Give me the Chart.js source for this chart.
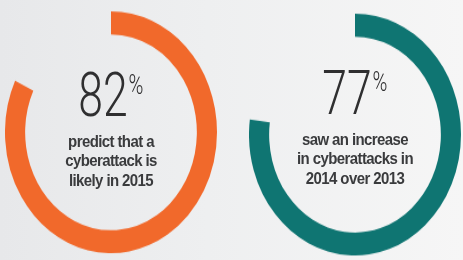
<!DOCTYPE html>
<html>
<head>
<meta charset="utf-8">
<script src="https://cdn.jsdelivr.net/npm/chart.js@4.4.1/dist/chart.umd.min.js"></script>
<style>
  html, body { margin: 0; padding: 0; }
  body {
    width: 463px; height: 260px; overflow: hidden;
    background: linear-gradient(to right, #e7e8ea 0%, #eeeff0 45%, #f6f6f6 100%);
  }
  /* the reference is slightly stretched vertically, so the whole scene is too */
  #scene {
    position: absolute; left: 0; top: 0; width: 463px; height: 228px;
    transform: scaleY(1.1404); transform-origin: 0 0;
  }
  .ring { position: absolute; width: 212px; height: 212px; }
  .ring canvas { display: block; }
  .label {
    position: absolute; width: 212px; text-align: center; color: #333;
  }
  .big {
    font-family: Roboto, "Open Sans", sans-serif; font-weight: 300;
    font-size: 53px; line-height: 40px; color: #2f2f30;
    display: inline-block; transform: scaleX(0.84); white-space: nowrap;
  }
  .big sup { font-size: 24px; vertical-align: top; position: relative; top: -10px; margin-left: 1px; }
  .text {
    font-family: "Liberation Sans Narrow", "Arial Narrow", "Liberation Sans", sans-serif;
    font-weight: bold; font-size: 15px; line-height: 17px; color: #3a3b3d;
    margin-top: 9px; letter-spacing: -0.6px;
  }
</style>
</head>
<body>
<div id="scene">
  <div class="ring" style="left:5px; top:10px;"><canvas id="ring0" width="212" height="212"></canvas></div>
  <div class="ring" style="left:249px; top:12px;"><canvas id="ring1" width="212" height="212"></canvas></div>
  <div class="label" id="label0" style="left:5px; top:64px;"></div>
  <div class="label" id="label1" style="left:249px; top:62px;"></div>
</div>
<script>
// --- DATOS ---
const categories = ['predict that a cyberattack is likely in 2015', 'saw an increase in cyberattacks in 2014 over 2013'];
const percentValues = [82, 77];
const labelLines = [
  ['predict that a', 'cyberattack is', 'likely in 2015'],
  ['saw an increase', 'in cyberattacks in', '2014 over 2013']
];
const ringColors = ['#f1692b', '#0f7572'];

// --- ANILLOS ---
function drawRing(i) {
  const ctx = document.getElementById('ring' + i).getContext('2d');
  new Chart(ctx, {
    type: 'doughnut',
    data: {
      labels: [categories[i], ''],
      datasets: [{
        data: [percentValues[i], 100 - percentValues[i]],
        backgroundColor: [ringColors[i], 'rgba(0,0,0,0)'],
        borderWidth: 0
      }]
    },
    options: {
      responsive: false,
      devicePixelRatio: 1,
      animation: false,
      cutout: '81%',
      rotation: 0,
      layout: { padding: 0 },
      plugins: { legend: { display: false }, tooltip: { enabled: false } }
    }
  });

  // texto central
  const label = document.getElementById('label' + i);
  label.innerHTML = '<div><span class="big">' + percentValues[i] + '<sup>%</sup></span></div>' +
    '<div class="text">' + labelLines[i].join('<br>') + '</div>';
}

categories.forEach((c, i) => drawRing(i));
</script>
</body>
</html>
